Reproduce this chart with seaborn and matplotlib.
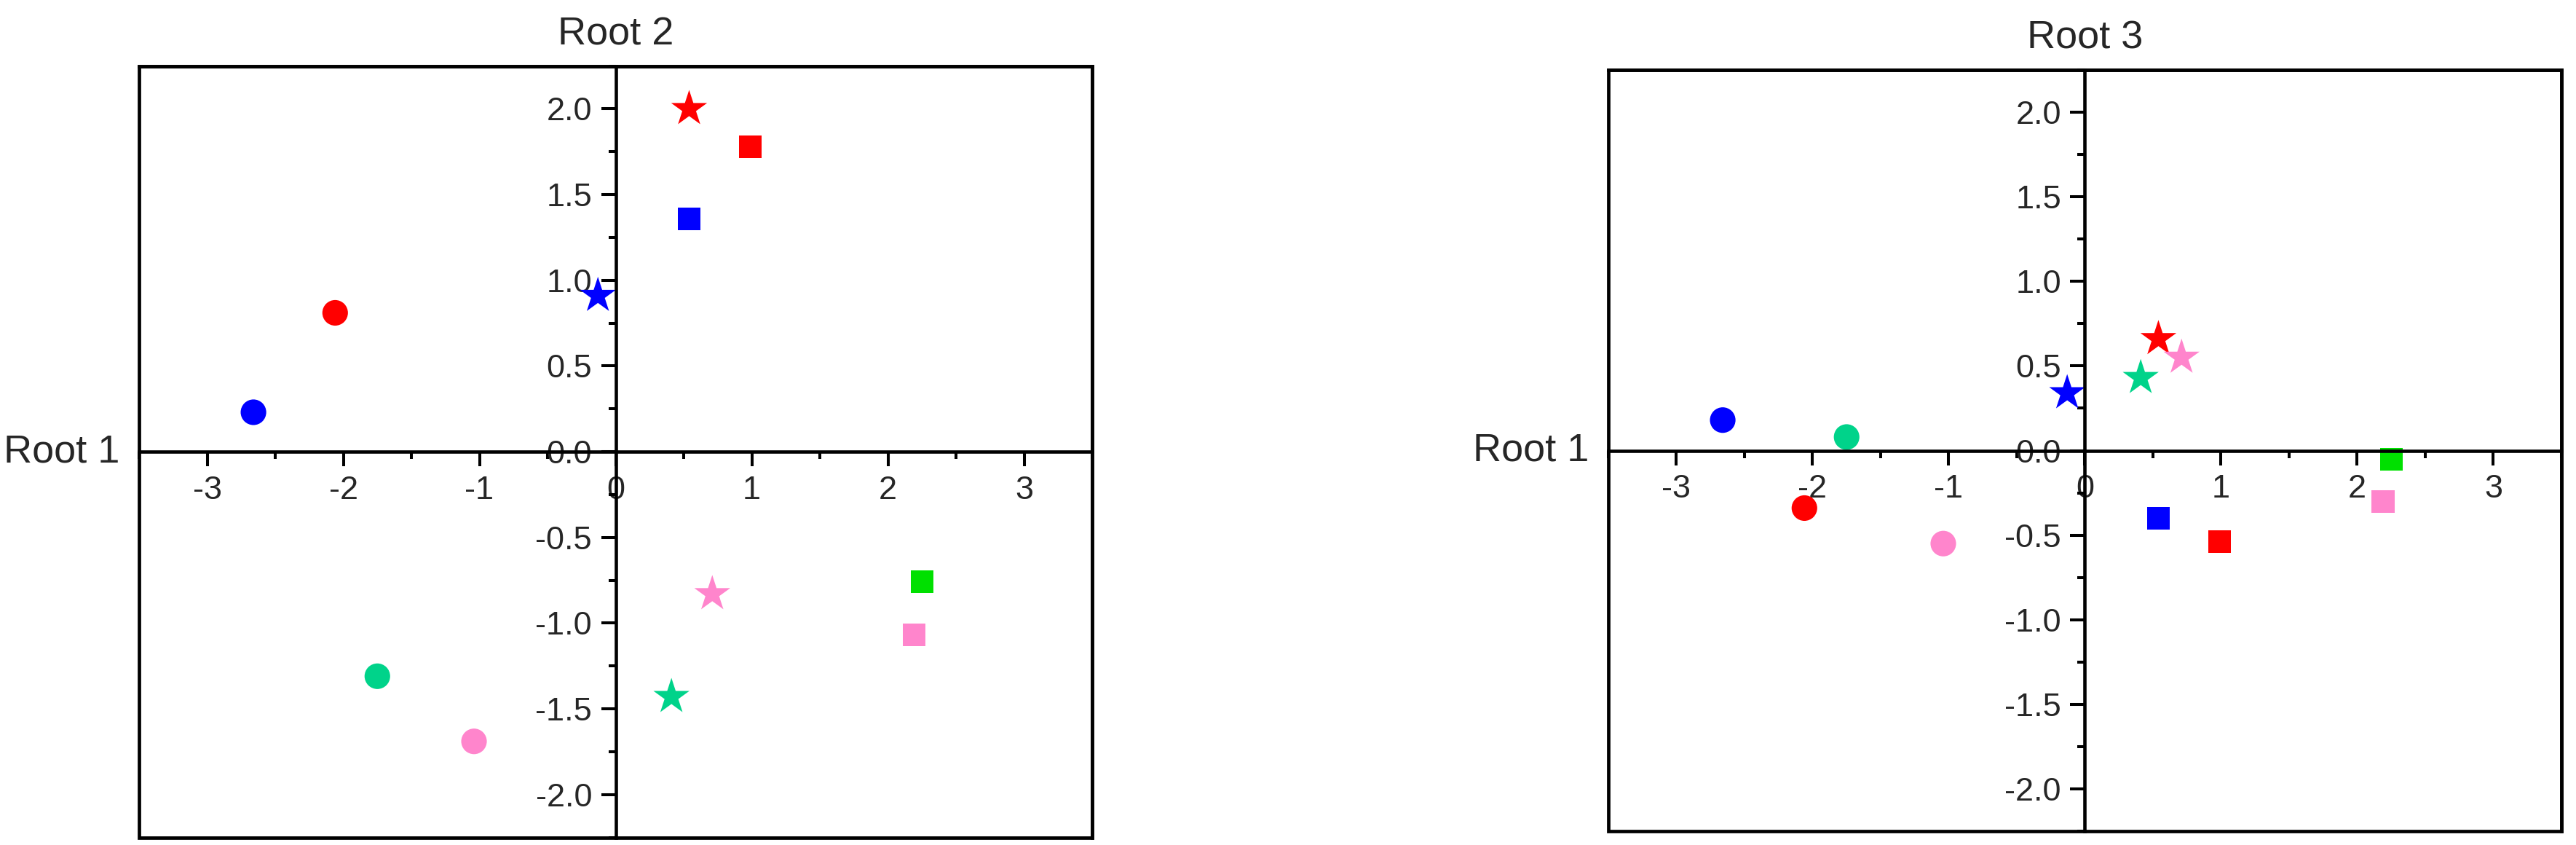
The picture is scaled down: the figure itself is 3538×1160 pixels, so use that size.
import pandas as pd
import seaborn as sns
import matplotlib.pyplot as plt
from matplotlib.patches import Rectangle
from matplotlib.ticker import MultipleLocator, FormatStrFormatter

# data
shapes = ['circle'] * 4 + ['square'] * 4 + ['star'] * 4
colours = ['blue', 'red', 'teal', 'pink',
           'blue', 'red', 'green', 'pink',
           'blue', 'red', 'teal', 'pink']
root1 = [-2.66, -2.06, -1.75, -1.04,
         0.54, 0.99, 2.25, 2.19,
         -0.13, 0.54, 0.41, 0.71]
root2 = [0.23, 0.81, -1.31, -1.69,
         1.36, 1.78, -0.76, -1.07,
         0.91, 2.00, -1.43, -0.83]
root3 = [0.18, -0.34, 0.08, -0.55,
         -0.40, -0.54, -0.05, -0.30,
         0.34, 0.66, 0.43, 0.55]

palette = {'blue': '#0000FF', 'red': '#FF0000', 'teal': '#00D38A',
           'pink': '#FF85CC', 'green': '#00E000'}
markers = {'circle': 'o', 'square': 's', 'star': '*'}
sizes = {'circle': 640, 'square': 500, 'star': 1400}

df = pd.DataFrame({'Root 1': root1, 'Root 2': root2, 'Root 3': root3,
                   'colour': colours, 'shape': shapes})

sns.set_style('white')
plt.rcParams['font.family'] = ['Liberation Sans', 'DejaVu Sans']

fig = plt.figure(figsize=(35.38, 11.6), dpi=100)
ax_left = fig.add_axes([0.05399, 0.00905, 0.36998, 0.91284])
ax_right = fig.add_axes([0.62436, 0.01638, 0.36998, 0.90086])

for ax, ycol in [(ax_left, 'Root 2'), (ax_right, 'Root 3')]:
    sns.scatterplot(data=df, x='Root 1', y=ycol, hue='colour', style='shape',
                    size='shape', palette=palette, markers=markers,
                    sizes=sizes, linewidth=0, legend=False, ax=ax)
    ax.set_xlim(-3.5, 3.5)
    ax.set_ylim(-2.25, 2.25)
    ax.set_xlabel('')
    ax.set_ylabel('')

    # axes cross at zero, plus a full box round the plot
    ax.spines['left'].set_position('zero')
    ax.spines['bottom'].set_position('zero')
    for s in ax.spines.values():
        s.set_linewidth(3.3)
        s.set_color('black')
    ax.add_patch(Rectangle((0, 0), 1, 1, transform=ax.transAxes, fill=False,
                           lw=3.4, edgecolor='black', clip_on=False))

    ax.xaxis.set_major_locator(MultipleLocator(1))
    ax.xaxis.set_minor_locator(MultipleLocator(0.5))
    ax.yaxis.set_major_locator(MultipleLocator(0.5))
    ax.yaxis.set_minor_locator(MultipleLocator(0.25))
    ax.xaxis.set_major_formatter(FormatStrFormatter('%d'))
    ax.yaxis.set_major_formatter(FormatStrFormatter('%.1f'))
    ax.tick_params(which='major', direction='out', length=14.4, width=2.9,
                   labelsize=32.5, pad=9, color='black', bottom=True, left=True)
    ax.tick_params(which='minor', direction='out', length=7.2, width=2.9,
                   color='black', bottom=True, left=True)

    ax.set_title(ycol, fontsize=39, pad=21)
    ax.text(-0.02, 0, 'Root 1', transform=ax.get_yaxis_transform(),
            ha='right', va='center', fontsize=39)

fig.savefig('out.png', dpi=100)
plt.close()
